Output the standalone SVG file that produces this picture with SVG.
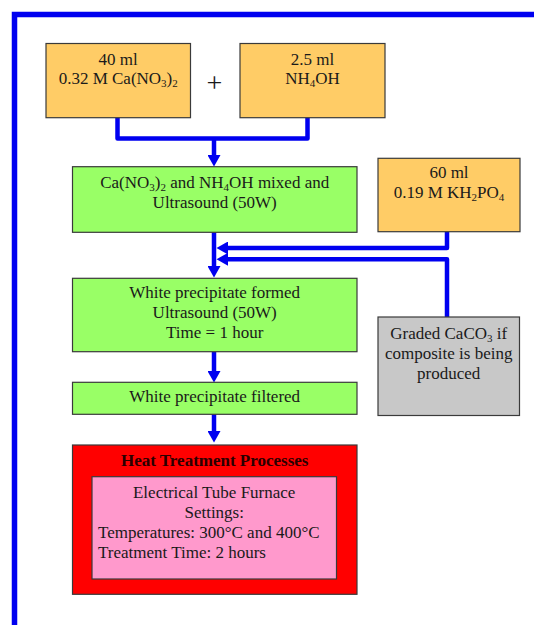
<svg xmlns="http://www.w3.org/2000/svg" width="534" height="625" viewBox="0 0 534 625">
<style>
text{font-family:"Liberation Serif","Times New Roman",serif;font-size:17px;fill:#1a1a1a}
.c{text-anchor:middle}
.box{stroke:#3a3a3a;stroke-width:1.2}
.orange{fill:#FFCC66}
.green{fill:#99FF66}
.gray{fill:#C8C8C8}
.conn{fill:none;stroke:#0000F0;stroke-width:4.5;stroke-linejoin:round}
.sub{font-size:11px}
</style>
<defs>
<marker id="ah" markerUnits="userSpaceOnUse" markerWidth="12" markerHeight="13" refX="6" refY="6.5" orient="auto" viewBox="0 0 12 13">
<path d="M0,0 L11.5,6.5 L0,13 z" fill="#0000F0"/>
</marker>
</defs>
<rect x="14.5" y="14.5" width="620" height="700" fill="none" stroke="#0000F0" stroke-width="5.5"/>
<g id="connectors">
<path class="conn" d="M117.5,117.7 V138.5 H307.5 V117.7"/>
<path class="conn" d="M214,138.5 V161" marker-end="url(#ah)"/>
<path class="conn" d="M214,232.3 V272" marker-end="url(#ah)"/>
<path class="conn" d="M447,231.7 V248 H222" marker-end="url(#ah)"/>
<path class="conn" d="M447,317 V259.3 H222" marker-end="url(#ah)"/>
<path class="conn" d="M214,351.7 V377" marker-end="url(#ah)"/>
<path class="conn" d="M214,414.3 V437" marker-end="url(#ah)"/>
</g>
<g id="n1">
<rect class="box orange" x="46" y="43.5" width="144.5" height="74.2"/>
<text class="c" x="118.2" y="65">40 ml</text>
<text class="c" x="118.2" y="84">0.32 M Ca(NO<tspan class="sub" dy="3">3</tspan><tspan dy="-3">)</tspan><tspan class="sub" dy="3">2</tspan></text>
</g>
<g id="plus">
<text class="c" x="214.5" y="92" style="font-size:28px">+</text>
</g>
<g id="n2">
<rect class="box orange" x="240" y="43.5" width="145" height="74.2"/>
<text class="c" x="312.5" y="65">2.5 ml</text>
<text class="c" x="312.5" y="84">NH<tspan class="sub" dy="3">4</tspan><tspan dy="-3">OH</tspan></text>
</g>
<g id="n3">
<rect class="box green" x="72.5" y="166.7" width="284.5" height="65.6"/>
<text class="c" x="214.7" y="187.7">Ca(NO<tspan class="sub" dy="3">3</tspan><tspan dy="-3">)</tspan><tspan class="sub" dy="3">2</tspan><tspan dy="-3"> and NH</tspan><tspan class="sub" dy="3">4</tspan><tspan dy="-3">OH mixed and</tspan></text>
<text class="c" x="214.7" y="207.7">Ultrasound (50W)</text>
</g>
<g id="n4">
<rect class="box orange" x="378" y="158.3" width="142" height="73.4"/>
<text class="c" x="449" y="178.3">60 ml</text>
<text class="c" x="449" y="198.3">0.19 M KH<tspan class="sub" dy="3">2</tspan><tspan dy="-3">PO</tspan><tspan class="sub" dy="3">4</tspan></text>
</g>
<g id="n5">
<rect class="box green" x="72.5" y="278.3" width="284.5" height="73.4"/>
<text class="c" x="214.7" y="298.3">White precipitate formed</text>
<text class="c" x="214.7" y="318.3">Ultrasound (50W)</text>
<text class="c" x="214.7" y="338.3">Time = 1 hour</text>
</g>
<g id="n6">
<rect class="box gray" x="378" y="317" width="141.5" height="98.5"/>
<text class="c" x="448.7" y="339.3">Graded CaCO<tspan class="sub" dy="3">3</tspan><tspan dy="-3"> if</tspan></text>
<text class="c" x="448.7" y="359.3">composite is being</text>
<text class="c" x="448.7" y="379.3">produced</text>
</g>
<g id="n7">
<rect class="box green" x="72.5" y="382.3" width="284.5" height="32"/>
<text class="c" x="214.7" y="401.7">White precipitate filtered</text>
</g>
<g id="n8">
<rect class="box" x="72.5" y="445" width="284.5" height="149.3" fill="#FF0000"/>
<text class="c" x="214.7" y="466" style="font-weight:bold;fill:#2a0000">Heat Treatment Processes</text>
<rect class="box" x="92" y="476.7" width="244.5" height="102.3" fill="#FF99CC"/>
<text class="c" x="214.2" y="497.7">Electrical Tube Furnace</text>
<text class="c" x="214.2" y="517.7">Settings:</text>
<text x="98" y="537.7">Temperatures: 300°C and 400°C</text>
<text x="98" y="557.7">Treatment Time: 2 hours</text>
</g>
</svg>
